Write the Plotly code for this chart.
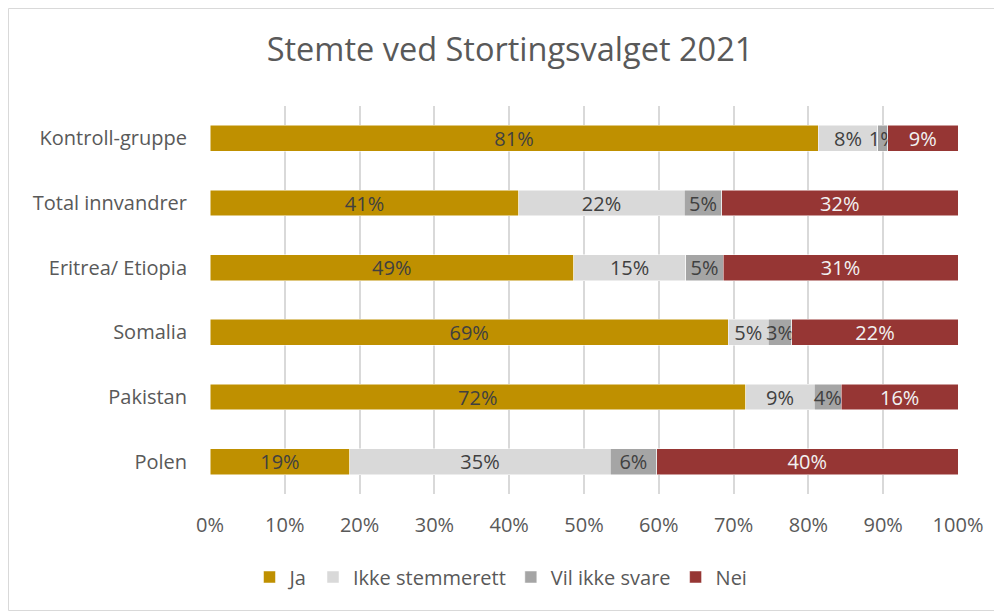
import plotly.graph_objects as go

categories = ["Kontroll-gruppe", "Total innvandrer", "Eritrea/ Etiopia", "Somalia", "Pakistan", "Polen"]
ja = [81.3, 41.3, 48.6, 69.3, 71.6, 18.7]
ikke_stemmerett = [8.0, 22.1, 15.0, 5.3, 9.2, 34.8]
vil_ikke_svare = [1.3, 5.0, 5.0, 3.2, 3.6, 6.2]
nei = [9.4, 31.6, 31.4, 22.2, 15.6, 40.3]
x_ticks = [0, 10, 20, 30, 40, 50, 60, 70, 80, 90, 100]

FONT = "'Open Sans', sans-serif"
series = [
    ("Ja", ja, "#BF9000", "#404040"),
    ("Ikke stemmerett", ikke_stemmerett, "#D9D9D9", "#404040"),
    ("Vil ikke svare", vil_ikke_svare, "#A5A5A5", "#404040"),
    ("Nei", nei, "#963634", "#F2F2F2"),
]

# page has an 8px body margin; figure is sized/offset to compensate
W, H = 994, 604
L, R, T, B = 202, 44, 98, 118
PW, PH = W - L - R, H - T - B

fig = go.Figure()
for name, vals, col, tcol in series:
    fig.add_trace(go.Bar(
        y=categories, x=vals, name=name, orientation="h",
        marker=dict(color=col, line=dict(color="white", width=0.5)),
        texttemplate="%{x:.0f}%", textposition="inside", insidetextanchor="middle",
        constraintext="none", textangle=0,
        textfont=dict(color=tcol, size=20, family=FONT),
        width=0.4, hoverinfo="skip",
    ))

fig.update_layout(
    barmode="stack",
    width=W, height=H,
    margin=dict(l=L, r=R, t=T, b=B),
    paper_bgcolor="white", plot_bgcolor="white",
    font=dict(family=FONT, color="#595959", size=20),
    title=dict(text="Stemte ved Stortingsvalget 2021", xref="paper",
               x=(502 - L) / PW, xanchor="center",
               y=1 - 42 / H, yanchor="middle", font=dict(size=32.5, color="#595959", family=FONT)),
    legend=dict(orientation="h", x=(493 - L) / PW, xanchor="center",
                y=-(569 - (T + PH)) / PH, yanchor="middle",
                font=dict(size=20, color="#595959", family=FONT), traceorder="normal",
                itemwidth=30),
    showlegend=True,
)
fig.update_xaxes(range=[0, 100], tickvals=x_ticks, ticktext=[f"{t}%" for t in x_ticks],
                 showgrid=True, gridcolor="#D9D9D9", gridwidth=1.5, zeroline=False,
                 showline=False, ticks="", ticklabelstandoff=17,
                 tickfont=dict(size=20, color="#595959", family=FONT), fixedrange=True)
fig.update_yaxes(autorange="reversed", showgrid=False, showline=False, ticks="",
                 ticklabelstandoff=22, tickfont=dict(size=20, color="#595959", family=FONT),
                 fixedrange=True)
fig.add_shape(type="rect", xref="paper", yref="paper",
              x0=(0.5 - L) / PW, x1=(W - 1.5 - L) / PW,
              y0=-(H - 1.5 - (T + PH)) / PH, y1=1 + (T - 0.5) / PH,
              line=dict(color="#D9D9D9", width=1), fillcolor="rgba(0,0,0,0)", layer="below")
fig.write_html("out.html")
